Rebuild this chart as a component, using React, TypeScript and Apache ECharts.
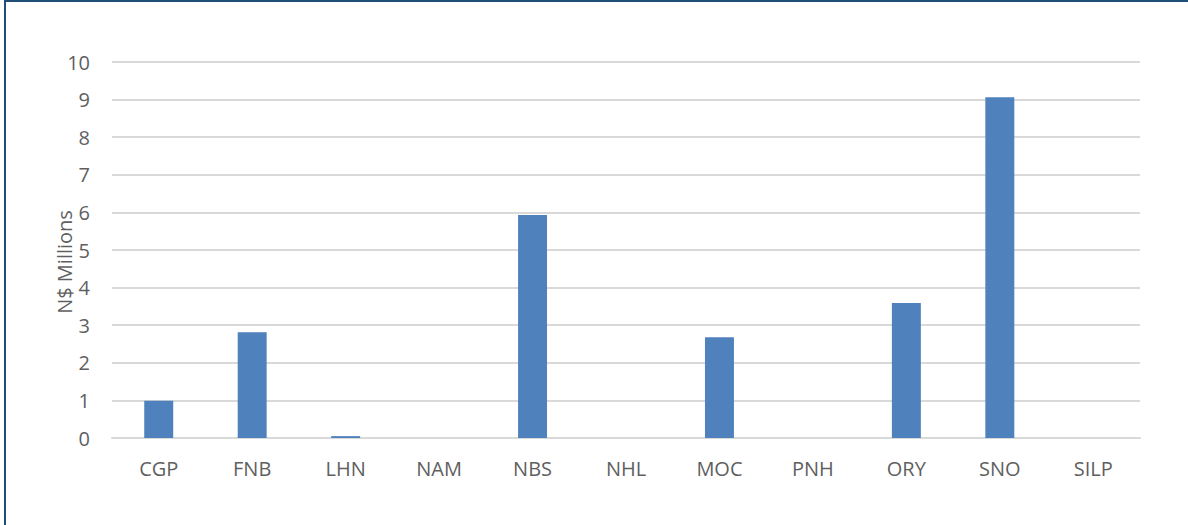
import React, { useEffect, useRef } from "react";
import * as echarts from "echarts";

const categories = ["CGP", "FNB", "LHN", "NAM", "NBS", "NHL", "MOC", "PNH", "ORY", "SNO", "SILP"];
const values = [0.99, 2.81, 0.05, 0, 5.93, 0, 2.68, 0, 3.59, 9.06, 0];
const yAxisTitle = "N$ Millions";
const yMin = 0;
const yMax = 10;
const yStep = 1;

export default function App() {
  const ref = useRef<HTMLDivElement>(null);
  useEffect(() => {
    if (!ref.current) return;
    const chart = echarts.init(ref.current, null, { renderer: "svg" });
    const font = "'Open Sans', 'Liberation Sans', sans-serif";
    chart.setOption({
      animation: false,
      backgroundColor: "#ffffff",
      grid: { left: 112, right: 48, top: 62, bottom: 87, containLabel: false },
      xAxis: {
        type: "category",
        data: categories,
        axisLine: { show: true, lineStyle: { color: "#D9D9D9", width: 2 } },
        axisTick: { show: false },
        axisLabel: { color: "#5F5F5F", fontSize: 20, fontFamily: font, margin: 20 },
      },
      yAxis: {
        type: "value",
        min: yMin,
        max: yMax,
        interval: yStep,
        axisLine: { show: false },
        axisTick: { show: false },
        splitLine: { lineStyle: { color: "#D9D9D9", width: 2 } },
        axisLabel: { color: "#5F5F5F", fontSize: 20, fontFamily: font, margin: 22 },
      },
      series: [
        {
          type: "bar",
          data: values,
          barWidth: "31%",
          itemStyle: { color: "#4F81BD" },
        },
      ],
      graphic: [
        {
          type: "text",
          x: 64,
          y: 262,
          rotation: Math.PI / 2,
          style: {
            text: yAxisTitle,
            fill: "#5F5F5F",
            fontSize: 20,
            fontFamily: font,
            align: "center",
            verticalAlign: "middle",
          },
        },
        {
          type: "line",
          shape: { x1: 4, y1: 1, x2: 1188, y2: 1 },
          style: { stroke: "#1F4E79", lineWidth: 2 },
        },
        {
          type: "line",
          shape: { x1: 5, y1: 0, x2: 5, y2: 525 },
          style: { stroke: "#1F4E79", lineWidth: 2 },
        },
      ],
    });
    return () => chart.dispose();
  }, []);
  return (
    <div
      ref={ref}
      style={{ position: "fixed", left: 0, top: 0, width: 1188, height: 525 }}
    />
  );
}
